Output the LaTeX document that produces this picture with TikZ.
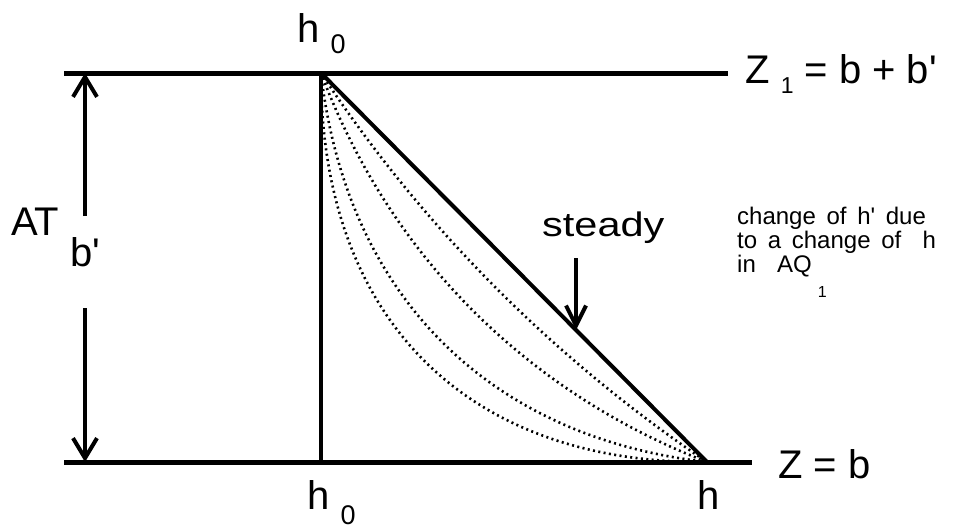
\documentclass[tikz,border=0pt]{standalone}
\usepackage{fontspec}
\setmainfont{Liberation Sans}
\newfontfamily\notefont[WordSpace=1.6]{Liberation Sans}
\usetikzlibrary{arrows.meta, calc}
\newcommand{\lblsize}{\fontsize{40}{46}\selectfont}
\newcommand{\subsize}{\fontsize{27}{30}\selectfont}
\newcommand{\onesize}{\fontsize{23}{26}\selectfont}
\newcommand{\notesize}{\notefont\fontsize{24}{24}\selectfont}
\newcommand{\lowered}[2]{\raisebox{-#1}{#2}}
\newcommand{\pr}{\textquotesingle}

\begin{document}
\begin{tikzpicture}[
    x=1pt, y=-1pt,
    lbl/.style={inner sep=0pt, anchor=base west, font=\lblsize},
    note/.style={inner sep=0pt, anchor=base west, font=\notesize},
    level/.style={line width=5pt},
    wall/.style={line width=4pt},
    dim/.style={line width=4pt, -{Straight Barb[length=20pt, width=24pt]}},
    profile/.style={line width=2.6pt, dash pattern=on 2pt off 3.4pt},
]
\useasboundingbox (0,0) rectangle (954,531);
% aquitard geometry
\coordinate (top) at (321,73);
\coordinate (foot) at (707,462);
\coordinate (floor0) at (321,462);
\coordinate (topL) at (64,73);
\coordinate (topR) at (728,73);
\coordinate (botL) at (64,462);
\coordinate (botR) at (752,462);
% transient profiles
\coordinate (a1) at (449.7,202.7);
\coordinate (a2) at (578.3,332.3);
\coordinate (o1) at (321,323);
\coordinate (o2) at (471,464);
\foreach \s in {1, 0.8, 0.46, 0.21} {
    \draw[profile] (top) .. controls ($(a1)!\s!(o1)$) and ($(a2)!\s!(o2)$) .. (foot);
}
\draw[level] (topL) -- (topR);
\draw[level] (botL) -- (botR);
\draw[wall] (top) -- (floor0);
\draw[wall] (top) -- (foot);
% thickness b'
\coordinate (dimTop) at (85,73);
\coordinate (dimUp) at (85,216);
\coordinate (dimDn) at (85,308);
\coordinate (dimBot) at (85,462);
\draw[dim] (dimUp) -- (dimTop);
\draw[dim] (dimDn) -- (dimBot);
\node[lbl] (at) at (11,235) {AT \lowered{31pt}{b\pr}};
% labels
\node[lbl] (h0top) at (297,42) {h \lowered{11pt}{\subsize 0}};
\node[lbl] (h0bot) at (307,509) {h \lowered{15pt}{\subsize 0}};
\node[lbl] (hfoot) at (697,509) {h};
\node[lbl] (z1) at (745,83) {Z \lowered{10pt}{\onesize 1} = b + b\pr};
\node[lbl] (zb) at (778,478) {Z = b};
\node[lbl, font=\fontsize{34}{38}\selectfont] (steady) at (542,236) {\scalebox{1.22}[1]{steady}};
\coordinate (stTail) at (576,258);
\coordinate (stTip) at (576,330);
\draw[dim, -{Straight Barb[length=20pt, width=20pt]}] (stTail) -- (stTip);
% note
\node[note] (note1) at (737,224) {change of h\pr\ due};
\node[note] (note2) at (737,248) {to a change of\ \ h};
\node[note] (note3) at (737,272) {in\ \ AQ\hspace{6pt}\lowered{25pt}{\fontsize{16}{16}\selectfont 1}};
\end{tikzpicture}
\end{document}
